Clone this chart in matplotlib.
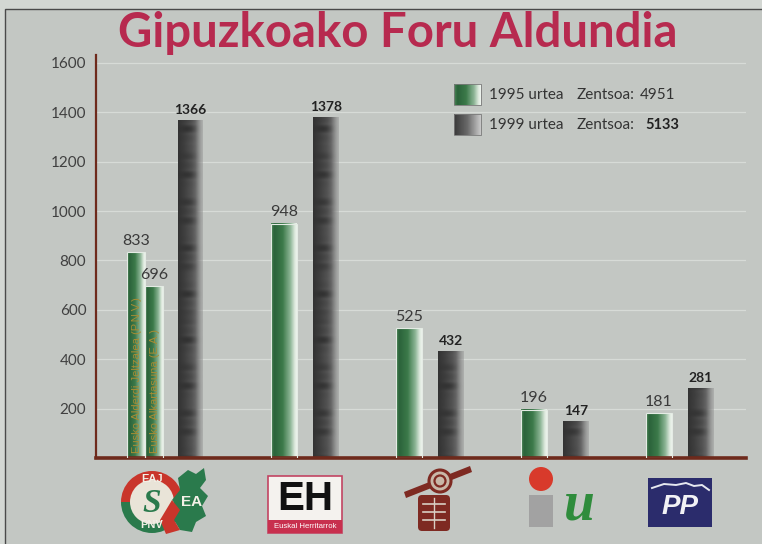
import numpy as np
import matplotlib
matplotlib.use("Agg")
import matplotlib.pyplot as plt
from matplotlib.patches import Rectangle, Circle, Wedge, Polygon, FancyBboxPatch
from matplotlib.colors import LinearSegmentedColormap

# ---------------- data ----------------
parties = ["EAJ-PNV / EA", "EH", "PSE-EE", "IU", "PP"]
votes_1995 = [833, 948, 525, 196, 181]      # first entry: EAJ-PNV
votes_1995_ea = 696                          # EA, 1995 (ran separately)
votes_1999 = [1366, 1378, 432, 147, 281]
names_1995_group1 = ["Eusko Alderdi Jeltzalea (P.N.V.)", "Eusko Alkartasuna (E.A.)"]
yticks = [200, 400, 600, 800, 1000, 1200, 1400, 1600]
legend_years = ["1995 urtea", "1999 urtea"]
census = [4951, 5133]
title = "Gipuzkoako Foru Aldundia"

# ---------------- style ----------------
W, H = 762, 544
BG = "#c3c7c3"
OUTER = "#d3d7d3"
AXIS = "#6e2a1c"
TITLE_C = "#b72a4f"
NUM_FONT = ["Lato", "DejaVu Sans"]

fig = plt.figure(figsize=(W / 100, H / 100), dpi=100)
fig.patch.set_facecolor(OUTER)
fig.add_artist(Rectangle((5 / W, -0.01), 1.0, 1 - 9 / H + 0.01, transform=fig.transFigure,
                         facecolor=BG, edgecolor="#4a4a4a", lw=1.0, zorder=-10))

px_per_unit = 125.0
ax_left, ax_right, ax_bottom, ax_top = 96, 746, 458, 55
ax = fig.add_axes([ax_left / W, 1 - ax_bottom / H, (ax_right - ax_left) / W, (ax_bottom - ax_top) / H])
ax.patch.set_alpha(0)
xmin = -84 / px_per_unit
xmax = xmin + (ax_right - ax_left) / px_per_unit
ymax = 1632

green_cmap = LinearSegmentedColormap.from_list(
    "g", [(0, "#4a8556"), (0.12, "#2b633a"), (0.45, "#3c7a4a"), (0.75, "#8db596"),
          (0.92, "#dbe8db"), (1.0, "#eef3ee")])


def green_bar(xc, w, h):
    img = green_cmap(np.linspace(0, 1, 64))[None, :, :].repeat(2, axis=0)
    ax.imshow(img, extent=[xc - w / 2, xc + w / 2, 0, h], aspect="auto", origin="lower",
              interpolation="bilinear", zorder=2)
    ax.add_patch(Rectangle((xc - w / 2, 0), w, h, facecolor="none", edgecolor="#e4ebe4",
                           lw=0.8, zorder=3))


def dark_bar(xc, w, h):
    nx = 48
    ny = max(int(h / 2), 4)
    u = np.linspace(0, 1, nx)
    yv = np.linspace(0, h, ny)
    base = np.interp(u, [0, 0.25, 0.55, 0.8, 1.0], [0.20, 0.25, 0.33, 0.45, 0.58])
    env = np.exp(-((u - 0.48) / 0.3) ** 2)
    wave = 0.6 * np.cos(2 * np.pi * yv / 95.0) + 0.4 * np.cos(2 * np.pi * yv / 61.0 + 1.0)
    mod = -0.13 * np.clip(wave, 0, None)[:, None] * env[None, :] + 0.03 * wave[:, None] * env[None, :]
    v = np.clip(base[None, :] + mod, 0, 1)
    alpha = np.interp(u, [0, 0.7, 1.0], [1.0, 1.0, 0.45])[None, :].repeat(ny, axis=0)
    img = np.dstack([v, v, v, alpha])
    ax.imshow(img, extent=[xc - w / 2, xc + w / 2, 0, h], aspect="auto", origin="lower",
              interpolation="bicubic", zorder=2)


gw = 26 / px_per_unit
goff = 21 / px_per_unit
lbl_pad = 18

for i in range(len(parties)):
    if i == 0:
        w_small = 18 / px_per_unit
        xs = [i - 44 / px_per_unit, i - 26 / px_per_unit]
        vals = [votes_1995[0], votes_1995_ea]
        for xc, v, nm in zip(xs, vals, names_1995_group1):
            green_bar(xc, w_small, v)
            ax.text(xc, v + lbl_pad, f"{v}", ha="center", va="bottom", fontsize=11.5,
                    color="#3a3a3a", family=NUM_FONT, zorder=4)
            ax.text(xc + 0.005, 22, nm, rotation=90, ha="center", va="bottom", fontsize=8,
                    color="#a88c34", family=["Liberation Sans Narrow", "Liberation Sans", "DejaVu Sans"],
                    zorder=4)
        xd = i + 10 / px_per_unit
        dw = 25 / px_per_unit
    else:
        xg = i - goff
        green_bar(xg, gw, votes_1995[i])
        ax.text(xg, votes_1995[i] + lbl_pad, f"{votes_1995[i]}", ha="center", va="bottom",
                fontsize=11.5, color="#3a3a3a", family=NUM_FONT, zorder=4)
        xd = i + goff
        dw = gw
    dark_bar(xd, dw, votes_1999[i])
    ax.text(xd, votes_1999[i] + lbl_pad, f"{votes_1999[i]}", ha="center", va="bottom",
            fontsize=10, fontweight="bold", color="#222222", family=NUM_FONT, zorder=4)

ax.set_xlim(xmin, xmax)
ax.set_ylim(0, ymax)
ax.set_yticks(yticks)
ax.set_yticklabels([str(t) for t in yticks], family=NUM_FONT)
ax.set_xticks([])
ax.tick_params(axis="y", length=0, pad=7, labelsize=11, labelcolor="#404040")
ax.grid(axis="y", color="#d7dbd7", lw=0.9, zorder=0)
ax.set_axisbelow(True)
for s in ["top", "right"]:
    ax.spines[s].set_visible(False)
ax.spines["left"].set_color(AXIS)
ax.spines["left"].set_linewidth(1.6)
ax.spines["bottom"].set_color(AXIS)
ax.spines["bottom"].set_linewidth(2.6)

# ---------------- overlay (pixel coordinates) ----------------
ov = fig.add_axes([0, 0, 1, 1])
ov.set_xlim(0, W)
ov.set_ylim(H, 0)
ov.axis("off")
ov.patch.set_alpha(0)

ov.text(398, 33, title, ha="center", va="center", fontsize=34, fontweight="bold",
        color=TITLE_C, family=["Lato", "DejaVu Sans"])

# legend
gray_cmap = LinearSegmentedColormap.from_list("k", ["#3a3a3a", "#6a6a6a", "#c8c8c8"])
legend_cmaps = [green_cmap, gray_cmap]
for k, (yr, cen) in enumerate(zip(legend_years, census)):
    y0 = 84 + 30 * k
    img = legend_cmaps[k](np.linspace(0, 1, 32))[None, :, :].repeat(2, axis=0)
    ov.imshow(img, extent=[454, 481, y0 + 21, y0], aspect="auto", interpolation="bilinear")
    ov.add_patch(Rectangle((454, y0), 27, 21, facecolor="none", edgecolor="#7a7a7a", lw=0.6))
    yc = y0 + 11
    ov.text(489, yc, yr, ha="left", va="center", fontsize=11, color="#333333", family=NUM_FONT)
    ov.text(577, yc, "Zentsoa:", ha="left", va="center", fontsize=11, color="#333333",
            family=NUM_FONT)
    ov.text(640 if k == 0 else 645, yc, f"{cen}", ha="left", va="center", fontsize=11 if k == 0 else 10.5,
            color="#333333" if k == 0 else "#222222",
            fontweight="normal" if k == 0 else "bold", family=NUM_FONT)

# ---- logos (simplified) ----
# EAJ-PNV / EA
cx, cy, r = 152, 502, 31
ov.add_patch(Wedge((cx, cy), r, 180, 360, facecolor="#c9352b", edgecolor="none"))
ov.add_patch(Wedge((cx, cy), r, 0, 180, facecolor="#2a7a4c", edgecolor="none"))
ov.add_patch(Circle((cx, cy), r - 9, facecolor="#e9e4d8", edgecolor="none"))
ov.text(cx, cy - r + 8, "EAJ", ha="center", va="center", fontsize=8, fontweight="bold",
        color="#f2efe6", family=["Liberation Sans", "DejaVu Sans"])
ov.text(cx, cy + r - 8, "PNV", ha="center", va="center", fontsize=8, fontweight="bold",
        color="#f2efe6", family=["Liberation Sans", "DejaVu Sans"])
ov.text(cx, cy + 1, "S", ha="center", va="center", fontsize=24, fontweight="bold",
        color="#2a7a4c", style="italic", family=["Liberation Serif", "DejaVu Serif"])
leaf = [(178, 478), (188, 470), (196, 474), (204, 468), (206, 480), (200, 488), (208, 496),
        (202, 506), (206, 516), (196, 522), (192, 532), (180, 530), (174, 520), (180, 510),
        (172, 500), (180, 490)]
ov.add_patch(Polygon(leaf, closed=True, facecolor="#2a7a4c", edgecolor="none"))
ov.add_patch(Polygon([(172, 500), (180, 510), (174, 520), (180, 530), (166, 534), (160, 520)],
                     closed=True, facecolor="#c9352b", edgecolor="none"))
ov.text(192, 502, "EA", ha="center", va="center", fontsize=11, fontweight="bold",
        color="#f4f1e8", family=["Liberation Sans", "DejaVu Sans"])

# EH
ov.add_patch(Rectangle((268, 476), 74, 57, facecolor="#f4f2ee", edgecolor="#c24462", lw=1.2))
ov.text(305, 499, "EH", ha="center", va="center", fontsize=29, fontweight="bold",
        color="#111111", family=["Liberation Sans", "DejaVu Sans"])
ov.add_patch(Rectangle((268, 520), 74, 13, facecolor="#c8304e", edgecolor="none"))
ov.text(305, 526.5, "Euskal Herritarrok", ha="center", va="center", fontsize=5.6,
        color="white", family=["Liberation Sans", "DejaVu Sans"])

# PSE-EE (rose and fist)
BR = "#7e2a22"
ov.add_patch(Polygon([(404, 492), (470, 466), (472, 472), (406, 498)], closed=True,
                     facecolor=BR, edgecolor="none"))
ov.add_patch(Circle((440, 481), 11, facecolor="#c9b8a8", edgecolor=BR, lw=2.2))
ov.add_patch(Circle((440, 481), 5.5, facecolor="none", edgecolor=BR, lw=1.6))
ov.add_patch(FancyBboxPatch((419, 496), 30, 34, boxstyle="round,pad=1,rounding_size=4",
                            facecolor=BR, edgecolor="none"))
for yy in [504, 512, 520]:
    ov.plot([423, 445], [yy, yy], color="#d9cfc4", lw=1.2)
ov.plot([434, 434], [498, 528], color="#d9cfc4", lw=1.0)

# IU
ov.add_patch(Circle((541, 479), 12, facecolor="#d83a2b", edgecolor="none"))
ov.add_patch(Rectangle((529, 495), 24, 32, facecolor="#a2a2a2", edgecolor="none"))
ov.text(579, 505, "u", ha="center", va="center", fontsize=40, fontweight="bold",
        style="italic", color="#2f8c3c", family=["Liberation Serif", "DejaVu Serif"])

# PP
ov.add_patch(Rectangle((648, 478), 64, 49, facecolor="#2b2c6c", edgecolor="none"))
ov.plot([652, 664, 676, 686, 694, 702, 709], [488, 484, 485, 483, 486, 485, 490],
        color="#e6e8f0", lw=1.4)
ov.text(680, 507, "PP", ha="center", va="center", fontsize=20, fontweight="bold",
        style="italic", color="#f2f2f6", family=["Liberation Sans", "DejaVu Sans"])

fig.savefig("out.png", dpi=100, facecolor=fig.get_facecolor())
